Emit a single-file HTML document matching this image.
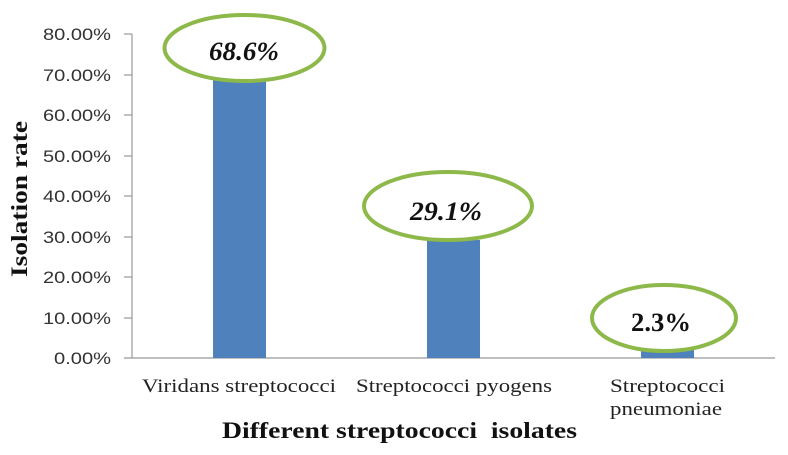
<!DOCTYPE html>
<html><head><style>body{margin:0;background:#fff}</style></head><body>
<svg width="788" height="450" xmlns="http://www.w3.org/2000/svg">
<g font-family="Liberation Sans, sans-serif" font-size="17" fill="#333" text-anchor="end" lengthAdjust="spacingAndGlyphs">
<text x="111" y="40" textLength="68" lengthAdjust="spacingAndGlyphs">80.00%</text><text x="111" y="81" textLength="68" lengthAdjust="spacingAndGlyphs">70.00%</text><text x="111" y="121" textLength="68" lengthAdjust="spacingAndGlyphs">60.00%</text>
<text x="111" y="162" textLength="68" lengthAdjust="spacingAndGlyphs">50.00%</text><text x="111" y="202" textLength="68" lengthAdjust="spacingAndGlyphs">40.00%</text><text x="111" y="243" textLength="68" lengthAdjust="spacingAndGlyphs">30.00%</text>
<text x="111" y="283" textLength="68" lengthAdjust="spacingAndGlyphs">20.00%</text><text x="111" y="324" textLength="68" lengthAdjust="spacingAndGlyphs">10.00%</text><text x="111" y="364" textLength="57" lengthAdjust="spacingAndGlyphs">0.00%</text>
</g>
<g stroke="#999" stroke-width="1.2">
<line x1="132" y1="34" x2="132" y2="358"/><line x1="124" y1="358" x2="775" y2="358"/>
<line x1="124" y1="34" x2="132" y2="34"/><line x1="124" y1="75" x2="132" y2="75"/><line x1="124" y1="115" x2="132" y2="115"/>
<line x1="124" y1="156" x2="132" y2="156"/><line x1="124" y1="196" x2="132" y2="196"/><line x1="124" y1="237" x2="132" y2="237"/>
<line x1="124" y1="277" x2="132" y2="277"/><line x1="124" y1="318" x2="132" y2="318"/>
</g>
<g fill="#4f81bd">
<rect x="213" y="80" width="53" height="278"/><rect x="427" y="240" width="53" height="118"/><rect x="641" y="349" width="53" height="9"/>
</g>
<g fill="#fff" stroke="#8db84a" stroke-width="4">
<ellipse cx="244.5" cy="48" rx="80" ry="33"/><ellipse cx="448" cy="206" rx="84" ry="34"/><ellipse cx="664" cy="318" rx="72" ry="33"/>
</g>
<g font-family="Liberation Serif, serif" font-size="26" font-weight="bold" fill="#111" text-anchor="middle">
<text x="244" y="60" font-style="italic" textLength="70" lengthAdjust="spacingAndGlyphs">68.6%</text>
<text x="446" y="220" font-style="italic" textLength="72" lengthAdjust="spacingAndGlyphs">29.1%</text>
<text x="661" y="331" textLength="60" lengthAdjust="spacingAndGlyphs">2.3%</text>
</g>
<g font-family="Liberation Serif, serif" font-size="19" fill="#222">
<text x="142" y="392" textLength="194" lengthAdjust="spacingAndGlyphs">Viridans streptococci</text>
<text x="356" y="392" textLength="196" lengthAdjust="spacingAndGlyphs">Streptococci pyogens</text>
<text x="610" y="392" textLength="115" lengthAdjust="spacingAndGlyphs">Streptococci</text>
<text x="610" y="415" textLength="112" lengthAdjust="spacingAndGlyphs">pneumoniae</text>
</g>
<text x="222" y="438" font-family="Liberation Serif, serif" font-size="23" font-weight="bold" fill="#111" textLength="355" lengthAdjust="spacingAndGlyphs">Different streptococci&#160; isolates</text>
<text transform="translate(27,277) rotate(-90)" font-family="Liberation Serif, serif" font-size="23" font-weight="bold" fill="#111" textLength="156" lengthAdjust="spacingAndGlyphs">Isolation rate</text>
</svg>
</body></html>
